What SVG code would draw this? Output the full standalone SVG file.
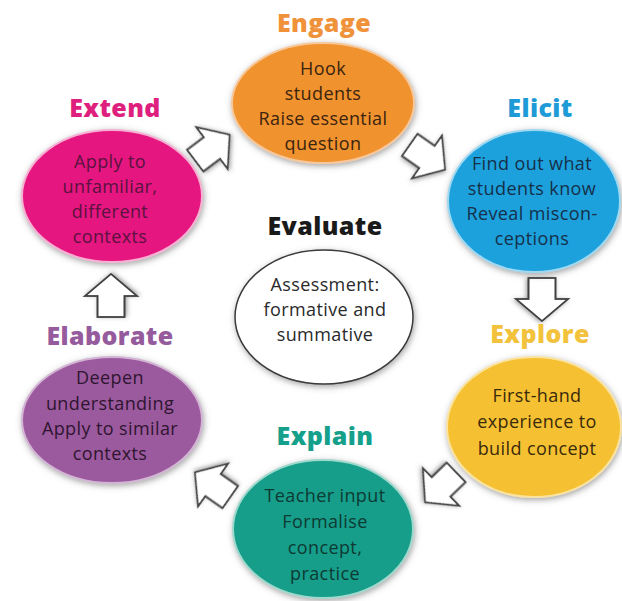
<svg xmlns="http://www.w3.org/2000/svg" width="622" height="601" viewBox="0 0 622 601">
  <defs>
    <filter id="halo" x="-20%" y="-20%" width="140%" height="140%">
      <feDropShadow dx="1" dy="2" stdDeviation="3" flood-color="#555" flood-opacity="0.55"/>
    </filter>
    <filter id="arrowShadow" x="-30%" y="-30%" width="160%" height="160%">
      <feDropShadow dx="1" dy="1.5" stdDeviation="2" flood-color="#444" flood-opacity="0.5"/>
    </filter>
    <polygon id="blockArrow" points="-21,-13.5 0,-13.5 0,-26 22,0 0,26 0,13.5 -21,13.5"/>
  </defs>
  <style>
    .stage { filter: url(#halo); stroke-width: 2; }
    .title { font-family: "Open Sans", "Noto Sans", sans-serif; font-weight: 800; font-size: 25px; letter-spacing: 0.4px; text-anchor: middle; }
    .body { font-family: "Open Sans", "Noto Sans", sans-serif; font-size: 18px; letter-spacing: 0.4px; text-anchor: middle; }
    .arrow { fill: #ffffff; stroke: #404040; stroke-width: 1.8; stroke-linejoin: miter; filter: url(#arrowShadow); }
  </style>
  <rect width="622" height="601" fill="#ffffff"/>

  <!-- connectors: white block arrows around the cycle -->
  <g id="connectors">
    <use href="#blockArrow" class="arrow" transform="translate(212,148) rotate(-37)"/>
    <use href="#blockArrow" class="arrow" transform="translate(427,157) rotate(35)"/>
    <use href="#blockArrow" class="arrow" transform="translate(542,299) rotate(90)"/>
    <use href="#blockArrow" class="arrow" transform="translate(441,487) rotate(136)"/>
    <use href="#blockArrow" class="arrow" transform="translate(213,485) rotate(-145)"/>
    <use href="#blockArrow" class="arrow" transform="translate(111,296) rotate(-90)"/>
  </g>

  <g id="engage">
    <text class="title" x="324" y="32" fill="#f0923a">Engage</text>
    <ellipse class="stage" cx="323" cy="103" rx="91" ry="60" fill="#f0922e" stroke="#f7c79a"/>
    <g class="body" fill="#3b2410">
      <text x="323" y="75">Hook</text>
      <text x="323" y="100">students</text>
      <text x="323" y="125">Raise essential</text>
      <text x="323" y="150">question</text>
    </g>
  </g>

  <g id="elicit">
    <text class="title" x="540" y="117" fill="#1e9bd7">Elicit</text>
    <ellipse class="stage" cx="534" cy="201" rx="86" ry="71" fill="#1ba1dc" stroke="#9fd8f0"/>
    <g class="body" fill="#16304a">
      <text x="532" y="170">Find out what</text>
      <text x="532" y="195">students know</text>
      <text x="532" y="220">Reveal miscon-</text>
      <text x="532" y="245">ceptions</text>
    </g>
  </g>

  <g id="explore">
    <text class="title" x="540" y="343" fill="#f2c23c">Explore</text>
    <ellipse class="stage" cx="534" cy="427" rx="87" ry="70" fill="#f5c132" stroke="#fae3a0"/>
    <g class="body" fill="#3a2a0c">
      <text x="537" y="402">First-hand</text>
      <text x="537" y="428">experience to</text>
      <text x="537" y="455">build concept</text>
    </g>
  </g>

  <g id="explain">
    <text class="title" x="325" y="445" fill="#14a08a">Explain</text>
    <ellipse class="stage" cx="323" cy="529" rx="90" ry="69" fill="#159e8a" stroke="#9fd8cc"/>
    <g class="body" fill="#0d3a33">
      <text x="325" y="502">Teacher input</text>
      <text x="325" y="528">Formalise</text>
      <text x="325" y="554">concept,</text>
      <text x="325" y="580">practice</text>
    </g>
  </g>

  <g id="elaborate">
    <text class="title" x="110" y="345" fill="#965b9d">Elaborate</text>
    <ellipse class="stage" cx="112" cy="420" rx="90" ry="63" fill="#9c5a9e" stroke="#d2b4d4"/>
    <g class="body" fill="#2e1530">
      <text x="110" y="384">Deepen</text>
      <text x="110" y="410">understanding</text>
      <text x="110" y="435">Apply to similar</text>
      <text x="110" y="460">contexts</text>
    </g>
  </g>

  <g id="extend">
    <text class="title" x="115" y="117" fill="#de1f7e">Extend</text>
    <ellipse class="stage" cx="112" cy="196" rx="90" ry="66" fill="#e5157f" stroke="#f5b0d2"/>
    <g class="body" fill="#5a1240">
      <text x="110" y="168">Apply to</text>
      <text x="110" y="193">unfamiliar,</text>
      <text x="110" y="218">different</text>
      <text x="110" y="243">contexts</text>
    </g>
  </g>

  <g id="evaluate">
    <text class="title" x="325" y="235" fill="#1a1a1a">Evaluate</text>
    <ellipse class="stage" cx="324" cy="317" rx="89" ry="67" fill="#ffffff" stroke="#3a3a3a" style="stroke-width:1.5"/>
    <g class="body" fill="#2a2a2a">
      <text x="325" y="291">Assessment:</text>
      <text x="325" y="316">formative and</text>
      <text x="325" y="341">summative</text>
    </g>
  </g>
</svg>
